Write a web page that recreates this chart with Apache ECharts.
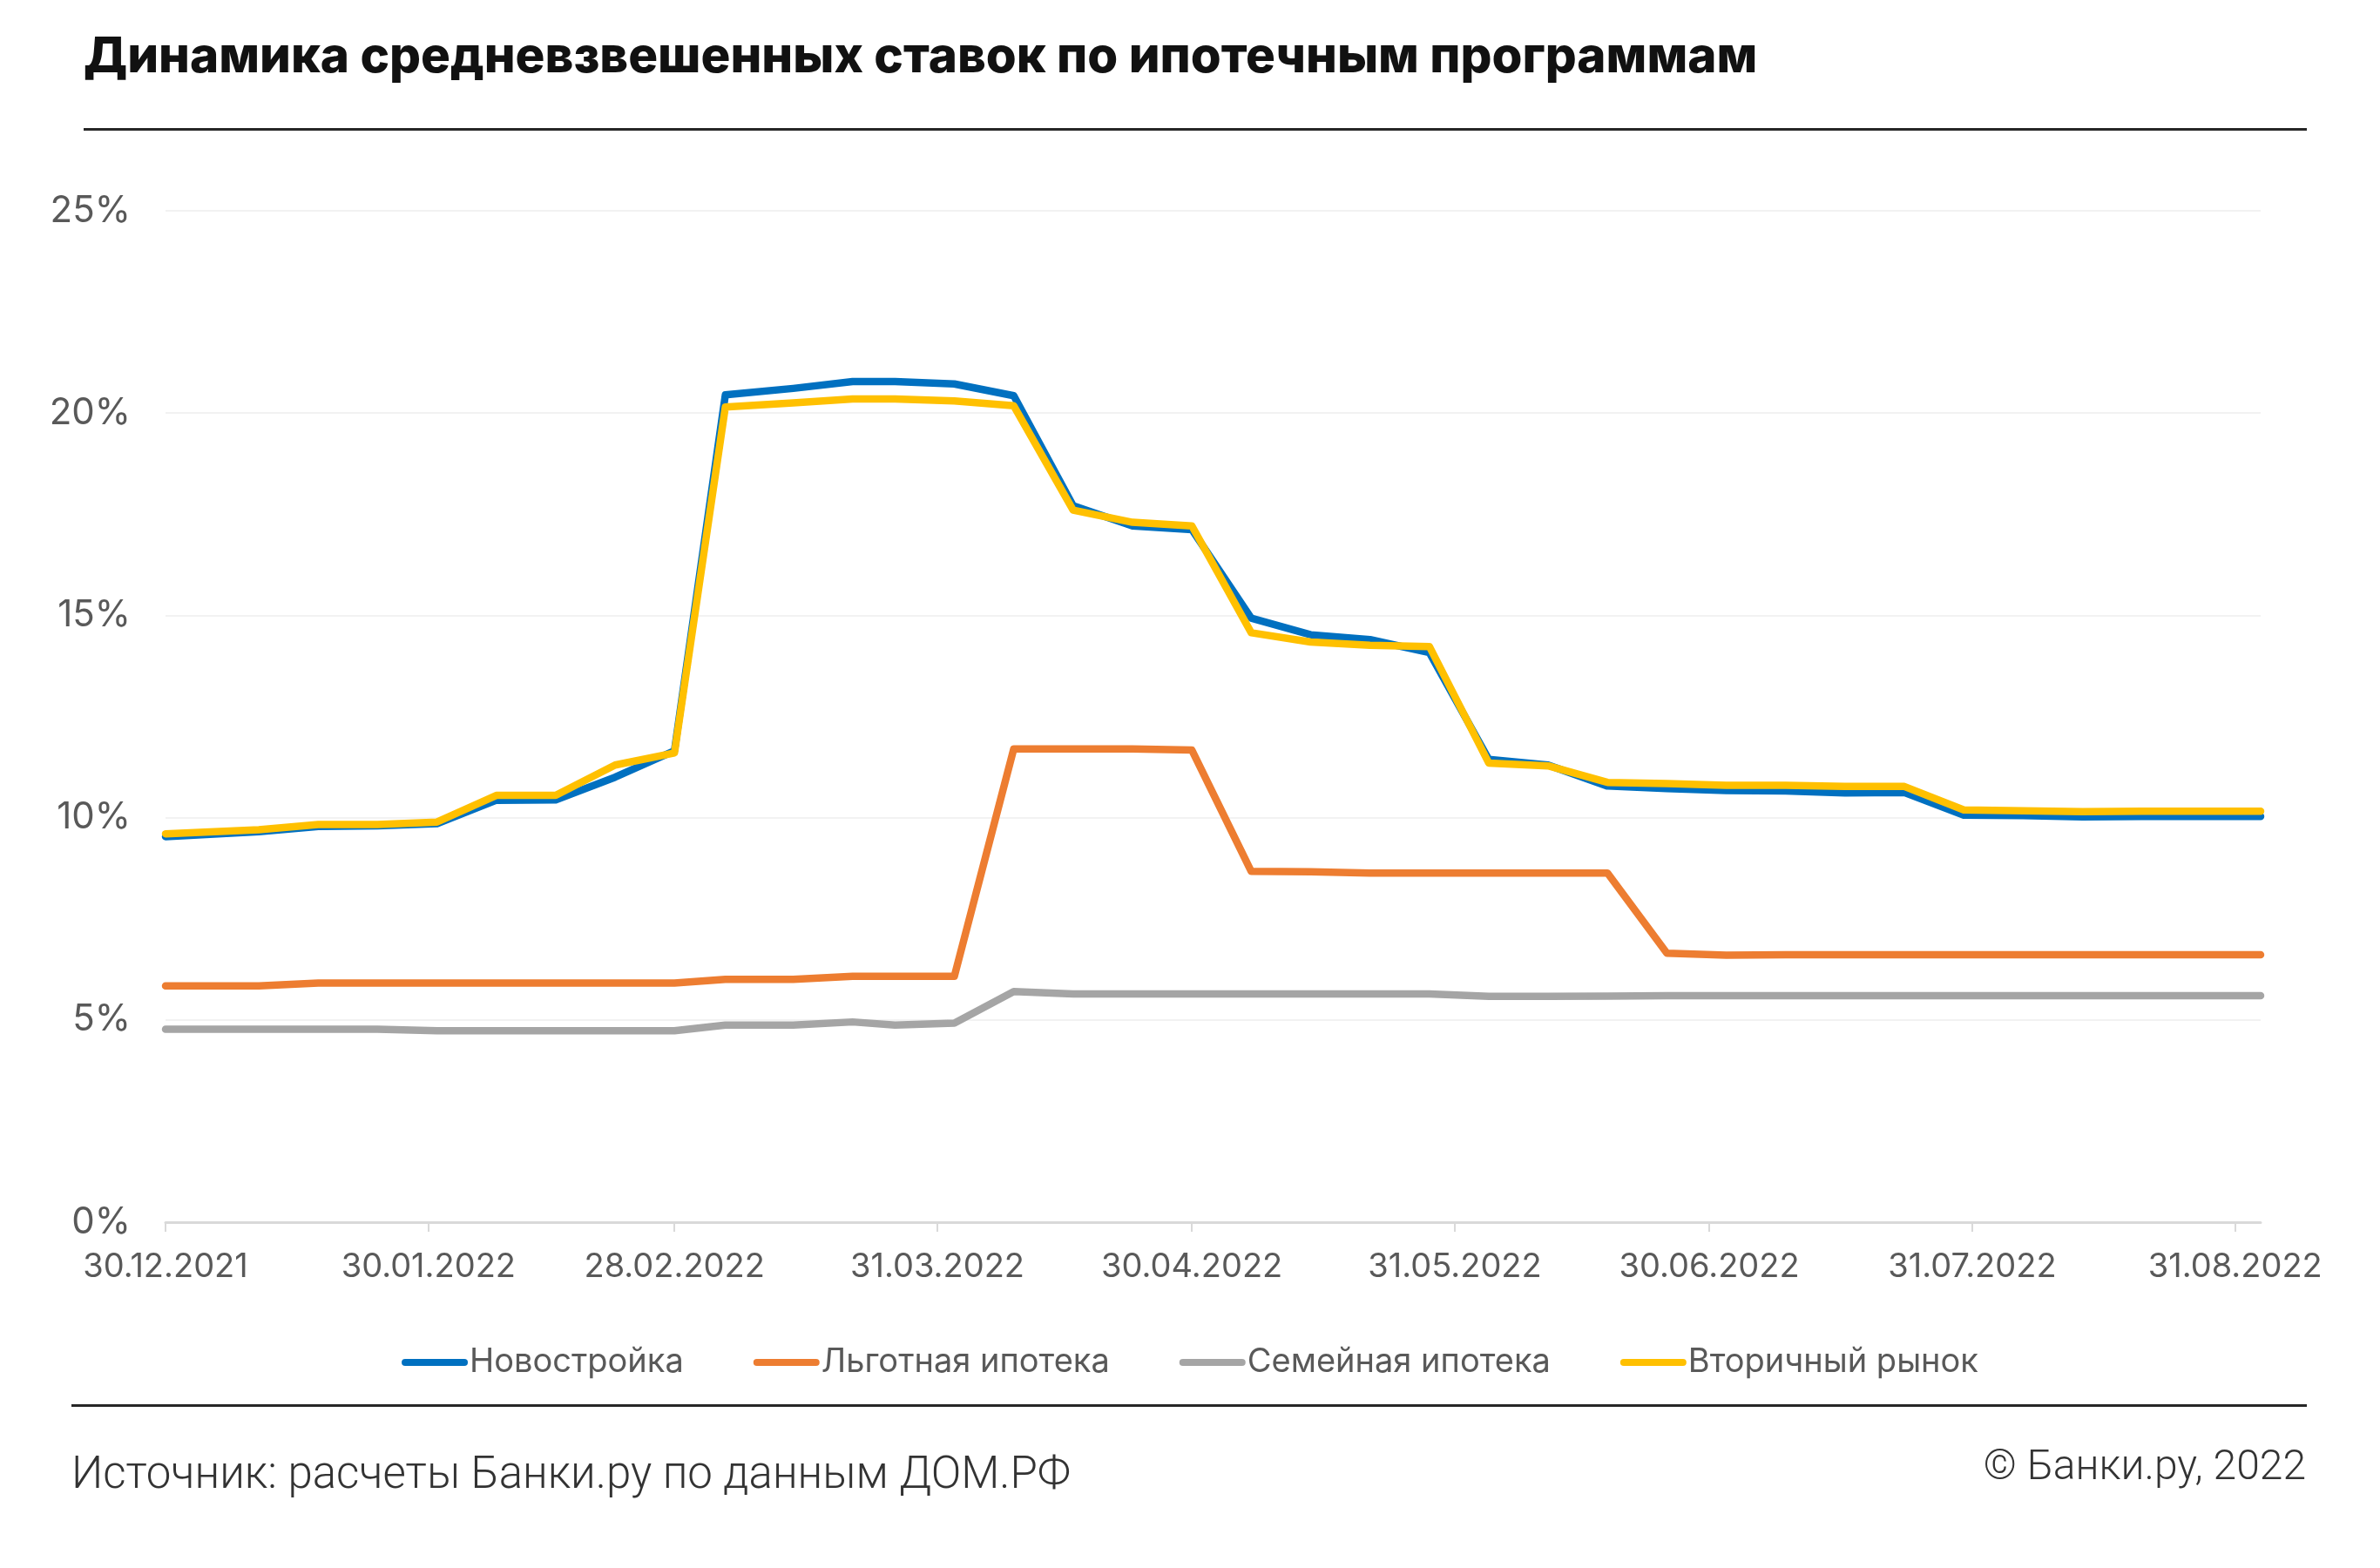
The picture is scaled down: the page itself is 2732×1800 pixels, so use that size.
<!DOCTYPE html>
<html>
<head>
<meta charset="utf-8">
<script src="https://cdn.jsdelivr.net/npm/echarts@6/dist/echarts.min.js"></script>
<style>
html,body{margin:0;padding:0;background:#fff;}
#c{width:2732px;height:1800px;}
</style>
</head>
<body>
<div id="c"></div>
<script>
// ---- data ----
const dates = ['2021-12-30','2022-01-10','2022-01-17','2022-01-24','2022-01-31','2022-02-07','2022-02-14','2022-02-21','2022-02-28',
  '2022-03-06','2022-03-14','2022-03-21','2022-03-26','2022-04-02','2022-04-09','2022-04-16','2022-04-23','2022-04-30',
  '2022-05-07','2022-05-14','2022-05-21','2022-05-28','2022-06-04','2022-06-11','2022-06-18','2022-06-25',
  '2022-07-02','2022-07-09','2022-07-16','2022-07-23','2022-07-30','2022-08-06','2022-08-13','2022-08-20','2022-08-27','2022-09-03'];
const novostroika = [9.53,9.65,9.78,9.80,9.85,10.43,10.44,11.00,11.65,
  20.45,20.61,20.78,20.78,20.72,20.43,17.71,17.21,17.12,
  14.93,14.52,14.40,14.08,11.44,11.30,10.78,10.72,
  10.67,10.66,10.61,10.62,10.06,10.05,10.02,10.03,10.03,10.03];
const lgotnaya = [5.84,5.84,5.91,5.91,5.91,5.91,5.91,5.91,5.91,
  6.00,6.00,6.08,6.08,6.08,11.70,11.70,11.70,11.67,
  8.67,8.66,8.63,8.63,8.63,8.63,8.63,6.65,
  6.60,6.61,6.61,6.61,6.61,6.61,6.61,6.61,6.61,6.61];
const semeynaya = [4.77,4.77,4.77,4.77,4.73,4.73,4.73,4.73,4.73,
  4.87,4.87,4.95,4.87,4.92,5.70,5.64,5.64,5.64,
  5.64,5.64,5.64,5.64,5.58,5.58,5.59,5.60,
  5.60,5.60,5.60,5.60,5.60,5.60,5.60,5.60,5.60,5.60];
const vtorichny = [9.60,9.70,9.83,9.83,9.89,10.55,10.55,11.30,11.60,
  20.15,20.25,20.35,20.35,20.30,20.18,17.60,17.30,17.21,
  14.57,14.34,14.26,14.23,11.35,11.28,10.87,10.84,
  10.80,10.80,10.77,10.77,10.19,10.17,10.15,10.16,10.16,10.16];
const tickDates = ['2021-12-30','2022-01-30','2022-02-28','2022-03-31','2022-04-30','2022-05-31','2022-06-30','2022-07-31','2022-08-31'];
const axisMin = '2021-12-30', axisMax = '2022-09-03';
const seriesNames = ['Новостройка','Льготная ипотека','Семейная ипотека','Вторичный рынок'];
const colors = ['#0070C0','#ED7D31','#A5A5A5','#FFC000'];
const titleText = 'Динамика средневзвешенных ставок по ипотечным программам';
const sourceText = 'Источник: расчеты Банки.ру по данным ДОМ.РФ';
const copyText = '© Банки.ру, 2022';

// ---- helpers ----
function toTs(s){ const p = s.split('-').map(Number); return Date.UTC(p[0], p[1]-1, p[2]); }
function fmt(v){ const d = new Date(v); const dd = String(d.getUTCDate()).padStart(2,'0'); const mm = String(d.getUTCMonth()+1).padStart(2,'0'); return dd + '.' + mm + '.' + d.getUTCFullYear(); }
const xs = dates.map(toTs);
const pair = arr => arr.map((v,i) => [xs[i], v]);
const allSeries = [novostroika, lgotnaya, semeynaya, vtorichny];
const tickTs = tickDates.map(toTs);

const chart = echarts.init(document.getElementById('c'), null, {renderer:'canvas'});
const lab = '#595959';
const capsule = 'path://M4,0 L72,0 A4,4 0 0 1 72,8 L4,8 A4,4 0 0 1 4,0 Z';

chart.setOption({
  animation: false,
  backgroundColor: '#ffffff',
  grid: {left: 190, right: 137, top: 242, bottom: 397, containLabel: false},
  xAxis: {
    type: 'value',
    min: toTs(axisMin), max: toTs(axisMax),
    axisLine: {show: true, onZero: false, lineStyle: {color: '#D9D9D9', width: 3}},
    axisTick: {show: true, length: 11, lineStyle: {color: '#D9D9D9', width: 2}, customValues: tickTs},
    axisLabel: {customValues: tickTs, formatter: v => fmt(v), color: lab, fontFamily: 'Inter', fontSize: 38, margin: 33, hideOverlap: false},
    splitLine: {show: false}
  },
  yAxis: {
    type: 'value', min: 0, max: 25, interval: 5,
    axisLine: {show: false}, axisTick: {show: false},
    axisLabel: {formatter: '{value}%', color: lab, fontFamily: 'Inter', fontSize: 42, margin: 40},
    splitLine: {show: true, lineStyle: {color: '#F2F2F2', width: 2}}
  },
  legend: {
    show: true, left: 'center', top: 1540,
    itemWidth: 76, itemHeight: 9, itemGap: 80, icon: capsule,
    textStyle: {color: lab, fontFamily: 'Inter', fontSize: 38, padding: [0,0,0,-3]},
    data: seriesNames
  },
  series: allSeries.map((arr, i) => ({
    name: seriesNames[i], type: 'line', data: pair(arr),
    showSymbol: false, symbol: 'none', z: 2 + i,
    color: colors[i],
    lineStyle: {color: colors[i], width: 8.5, cap: 'round', join: 'round'},
    emphasis: {disabled: true}
  })),
  graphic: [
    {type: 'text', left: 96, top: 38, style: {text: titleText, fill: '#111', font: '800 56.5px Inter'}},
    {type: 'rect', shape: {x: 96, y: 147, width: 2552, height: 3}, style: {fill: '#262626'}},
    {type: 'rect', shape: {x: 82, y: 1612, width: 2566, height: 3}, style: {fill: '#262626'}},
    {type: 'text', left: 82, top: 1670, style: {text: sourceText, fill: '#333', font: '300 51px Roboto'}},
    {type: 'text', right: 85, top: 1662, style: {text: copyText, fill: '#333', font: '300 48px Roboto'}}
  ]
});
</script>
</body>
</html>
